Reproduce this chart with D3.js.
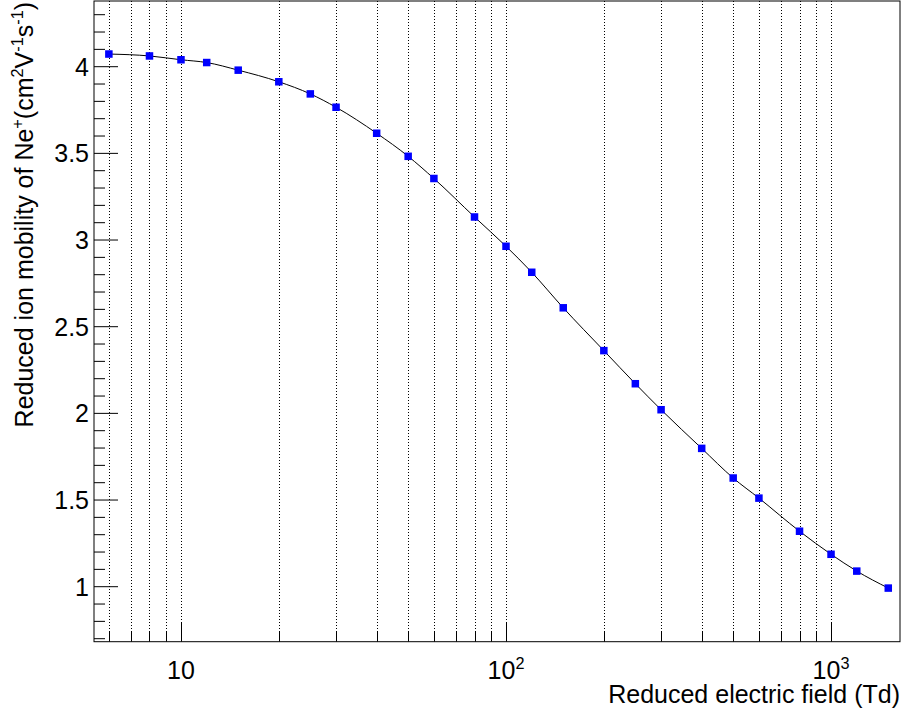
<!DOCTYPE html>
<html>
<head>
<meta charset="utf-8">
<script src="https://cdn.jsdelivr.net/npm/d3@7"></script>
<style>
  body { margin: 0; background: #fff; }
  svg { display: block; font-family: 'Liberation Sans', Arial, Helvetica, sans-serif; }
</style>
</head>
<body>
<svg width="901" height="715"></svg>
<script>
// reduced electric field (Td) and reduced mobility of Ne+ (cm2 V-1 s-1)
const fieldTd = [6, 8, 10, 12, 15, 20, 25, 30, 40, 50, 60, 80, 100, 120, 150, 200, 250, 300, 400, 500, 600, 800, 1000, 1200, 1500];
const mobility = [4.073, 4.062, 4.040, 4.024, 3.980, 3.913, 3.843, 3.766, 3.616, 3.483, 3.355, 3.133, 2.964, 2.814, 2.609, 2.362, 2.171, 2.021, 1.798, 1.627, 1.511, 1.320, 1.187, 1.090, 0.992];

const xMajorTicks = [10, 100, 1000];
const xTickBase = ['10', '10', '10'];
const xTickExp = ['', '2', '3'];
const yMajorTicks = [1, 1.5, 2, 2.5, 3, 3.5, 4];
const yTickLabels = ['1', '1.5', '2', '2.5', '3', '3.5', '4'];

const svg = d3.select('svg');
const frameL = 94, frameR = 900, frameT = 1, frameB = 641.7;
const fontSize = 25;

const xScale = d3.scaleLog()
  .domain([5.40, 1630])
  .range([frameL, frameR]);

const yScale = d3.scaleLinear()
  .domain([0.6827, 4.379])
  .range([frameB, frameT]);

const data = fieldTd.map((d, i) => ({ x: d, y: mobility[i] }));

// vertical dotted grid on every x tick
const xAllTicks = xScale.ticks();
svg.append('g')
  .selectAll('line')
  .data(xAllTicks)
  .join('line')
    .attr('x1', d => Math.round(xScale(d)) + 0.5)
    .attr('x2', d => Math.round(xScale(d)) + 0.5)
    .attr('y1', frameT)
    .attr('y2', frameB)
    .attr('stroke', '#000')
    .attr('stroke-width', 1)
    .attr('stroke-dasharray', '1,2');

// curve through the points
const line = d3.line()
  .x(d => xScale(d.x))
  .y(d => yScale(d.y))
  .curve(d3.curveMonotoneX);

svg.append('path')
  .datum(data)
  .attr('d', line)
  .attr('fill', 'none')
  .attr('stroke', '#000')
  .attr('stroke-width', 1);

// markers
const ms = 7.5;
svg.append('g')
  .selectAll('rect')
  .data(data)
  .join('rect')
    .attr('x', d => xScale(d.x) - ms / 2)
    .attr('y', d => yScale(d.y) - ms / 2)
    .attr('width', ms)
    .attr('height', ms)
    .attr('fill', '#0000ff');

// frame
svg.append('rect')
  .attr('x', frameL)
  .attr('y', frameT)
  .attr('width', frameR - frameL)
  .attr('height', frameB - frameT)
  .attr('fill', 'none')
  .attr('stroke', '#000')
  .attr('stroke-width', 1);

// x ticks
svg.append('g')
  .selectAll('line')
  .data(xAllTicks)
  .join('line')
    .attr('x1', d => Math.round(xScale(d)) + 0.5)
    .attr('x2', d => Math.round(xScale(d)) + 0.5)
    .attr('y1', frameB)
    .attr('y2', d => xMajorTicks.includes(d) ? frameB - 19 : frameB - 10)
    .attr('stroke', '#000')
    .attr('stroke-width', 1);

const xLab = svg.append('g')
  .selectAll('text')
  .data(xMajorTicks)
  .join('text')
    .attr('x', d => xScale(d))
    .attr('y', 679)
    .attr('text-anchor', 'middle')
    .attr('font-size', fontSize);
xLab.append('tspan').text((d, i) => xTickBase[i]);
xLab.append('tspan')
  .attr('dy', -10)
  .attr('font-size', fontSize * 0.65)
  .text((d, i) => xTickExp[i]);

// y ticks
const yMinor = d3.range(7, 44).map(v => v / 10);
svg.append('g')
  .selectAll('line')
  .data(yMinor)
  .join('line')
    .attr('x1', frameL)
    .attr('x2', d => yMajorTicks.some(m => Math.abs(m - d) < 1e-6) ? frameL + 24 : frameL + 11)
    .attr('y1', d => yScale(d))
    .attr('y2', d => yScale(d))
    .attr('stroke', '#000')
    .attr('stroke-width', 1);

svg.append('g')
  .selectAll('text')
  .data(yMajorTicks)
  .join('text')
    .attr('x', 89)
    .attr('y', d => yScale(d))
    .attr('dy', '0.36em')
    .attr('text-anchor', 'end')
    .attr('font-size', fontSize)
    .text((d, i) => yTickLabels[i]);

// axis titles
svg.append('text')
  .attr('x', 900)
  .attr('y', 703)
  .attr('text-anchor', 'end')
  .attr('font-size', fontSize)
  .text('Reduced electric field (Td)');

const yTitle = svg.append('text')
  .attr('transform', 'translate(33,2) rotate(-90)')
  .attr('text-anchor', 'end')
  .attr('font-size', fontSize);
const supSize = fontSize * 0.65;
const parts = [
  ['Reduced ion mobility of Ne', false],
  ['+', true],
  ['(cm', false],
  ['2', true],
  ['V', false],
  ['-1', true],
  ['s', false],
  ['-1', true],
  [')', false]
];
let raised = false;
parts.forEach(([t, sup]) => {
  const ts = yTitle.append('tspan').text(t);
  if (sup && !raised) { ts.attr('dy', -10); raised = true; }
  if (!sup && raised) { ts.attr('dy', 10); raised = false; }
  if (sup) ts.attr('font-size', supSize);
});
</script>
</body>
</html>
